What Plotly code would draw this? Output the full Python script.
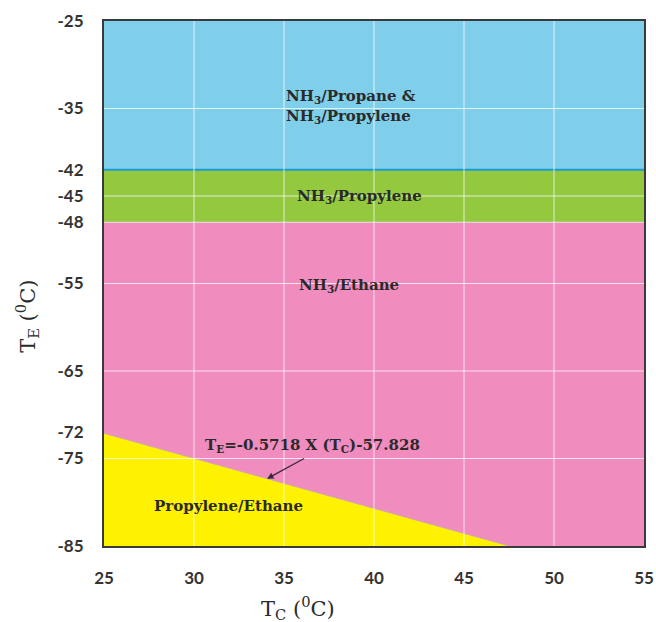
import plotly.graph_objects as go

# Condenser temperature range (x) and evaporator temperature range (y), °C
tc_range = [25, 55]
te_range = [-85, -25]

# Zone boundaries on the evaporator temperature axis
te_top = -25
te_blue_green = -42
te_green_pink = -48
te_bottom = -85

# Pink/yellow boundary: T_E = slope * T_C + intercept
slope = -0.5718
intercept = -57.828

x_ticks = [25, 30, 35, 40, 45, 50, 55]
y_ticks = [-25, -35, -42, -45, -48, -55, -65, -72, -75, -85]
y_tick_text = ["-25", "-35", "-42", "-45", "-48", "-55", "-65", "-72", "-75", "-85"]
y_grid = [-35, -45, -55, -65, -75]
x_grid = [30, 35, 40, 45, 50]

c_blue = "#7fcfea"
c_green = "#93c83f"
c_pink = "#f08cbe"
c_yellow = "#fff200"

x0, x1 = tc_range
te_left = slope * x0 + intercept
x_cross = (te_bottom - intercept) / slope

fig = go.Figure()

def band(xs, ys, color):
    fig.add_trace(go.Scatter(
        x=xs, y=ys, fill="toself", fillcolor=color, mode="lines",
        line=dict(color=color, width=0), hoverinfo="skip", showlegend=False))

band([x0, x1, x1, x0, x0], [te_top, te_top, te_blue_green, te_blue_green, te_top], c_blue)
band([x0, x1, x1, x0, x0], [te_blue_green, te_blue_green, te_green_pink, te_green_pink, te_blue_green], c_green)
band([x0, x1, x1, x0, x0], [te_green_pink, te_green_pink, te_bottom, te_bottom, te_green_pink], c_pink)
band([x0, x_cross, x0, x0], [te_left, te_bottom, te_bottom, te_left], c_yellow)

# Boundary lines
fig.add_trace(go.Scatter(x=[x0, x1], y=[te_blue_green, te_blue_green], mode="lines",
                         line=dict(color="#1b9ad8", width=2), hoverinfo="skip", showlegend=False))
fig.add_trace(go.Scatter(x=[x0, x1], y=[te_green_pink, te_green_pink], mode="lines",
                         line=dict(color="#e6dfe3", width=1), hoverinfo="skip", showlegend=False))
fig.add_trace(go.Scatter(x=[x0, x_cross], y=[te_left, te_bottom], mode="lines",
                         line=dict(color="#d0a8b4", width=1), hoverinfo="skip", showlegend=False))

# White grid drawn over the coloured zones
shapes = []
for gx in x_grid:
    shapes.append(dict(type="line", xref="x", yref="y", x0=gx, x1=gx, y0=te_bottom, y1=te_top,
                       line=dict(color="rgba(255,255,255,0.75)", width=1), layer="above"))
for gy in y_grid:
    shapes.append(dict(type="line", xref="x", yref="y", x0=x0, x1=x1, y0=gy, y1=gy,
                       line=dict(color="rgba(255,255,255,0.75)", width=1), layer="above"))

label_font = dict(family="DejaVu Serif", size=15, color="#2a2a2a", weight="bold")
title_font = dict(family="DejaVu Serif", size=21, color="#2a2a2a")
annotations = [
    dict(x=38.7, y=-34.8, text="NH<sub>3</sub>/Propane &amp;<br>NH<sub>3</sub>/Propylene",
         showarrow=False, font=label_font, align="left"),
    dict(x=39.2, y=-45.1, text="NH<sub>3</sub>/Propylene", showarrow=False, font=label_font),
    dict(x=38.6, y=-55.2, text="NH<sub>3</sub>/Ethane", showarrow=False, font=label_font),
    dict(x=31.9, y=-80.4, text="Propylene/Ethane", showarrow=False, font=label_font),
    dict(x=36.6, y=-73.5, text="T<sub>E</sub>=-0.5718 X (T<sub>C</sub>)-57.828",
         showarrow=False, font=label_font),
    dict(x=34.06, y=slope * 34.06 + intercept, ax=36.2, ay=-74.9, axref="x", ayref="y",
         xref="x", yref="y", text="", showarrow=True, arrowhead=2, arrowsize=1,
         arrowwidth=1.3, arrowcolor="#3a2a3a"),
    # Axis titles
    dict(xref="paper", yref="paper", x=0.359, y=-0.118, xanchor="center", yanchor="middle",
         text="T<sub>C</sub> (<sup>0</sup>C)", showarrow=False, font=title_font),
    dict(xref="paper", yref="paper", x=-0.143, y=0.438, xanchor="center", yanchor="middle",
         text="T<sub>E</sub> (<sup>0</sup>C)", showarrow=False, font=title_font, textangle=-90),
]

tick_font = dict(family="Lato", size=17, color="#333333", weight="bold")
fig.update_layout(
    width=656, height=622,
    margin=dict(l=104, r=12, t=21, b=76, autoexpand=False),
    paper_bgcolor="white", plot_bgcolor="white",
    shapes=shapes, annotations=annotations,
    xaxis=dict(range=tc_range, tickvals=x_ticks, showgrid=False, zeroline=False,
               showline=True, linecolor="#3a3a3a", linewidth=2, mirror=True, automargin=False,
               ticks="", ticklabelstandoff=16, tickfont=tick_font),
    yaxis=dict(range=te_range, tickvals=y_ticks, ticktext=y_tick_text, showgrid=False,
               zeroline=False, showline=True, linecolor="#3a3a3a", linewidth=2, mirror=True,
               automargin=False, ticks="", ticklabelstandoff=15, tickfont=tick_font),
)

fig.write_html("out.html")
